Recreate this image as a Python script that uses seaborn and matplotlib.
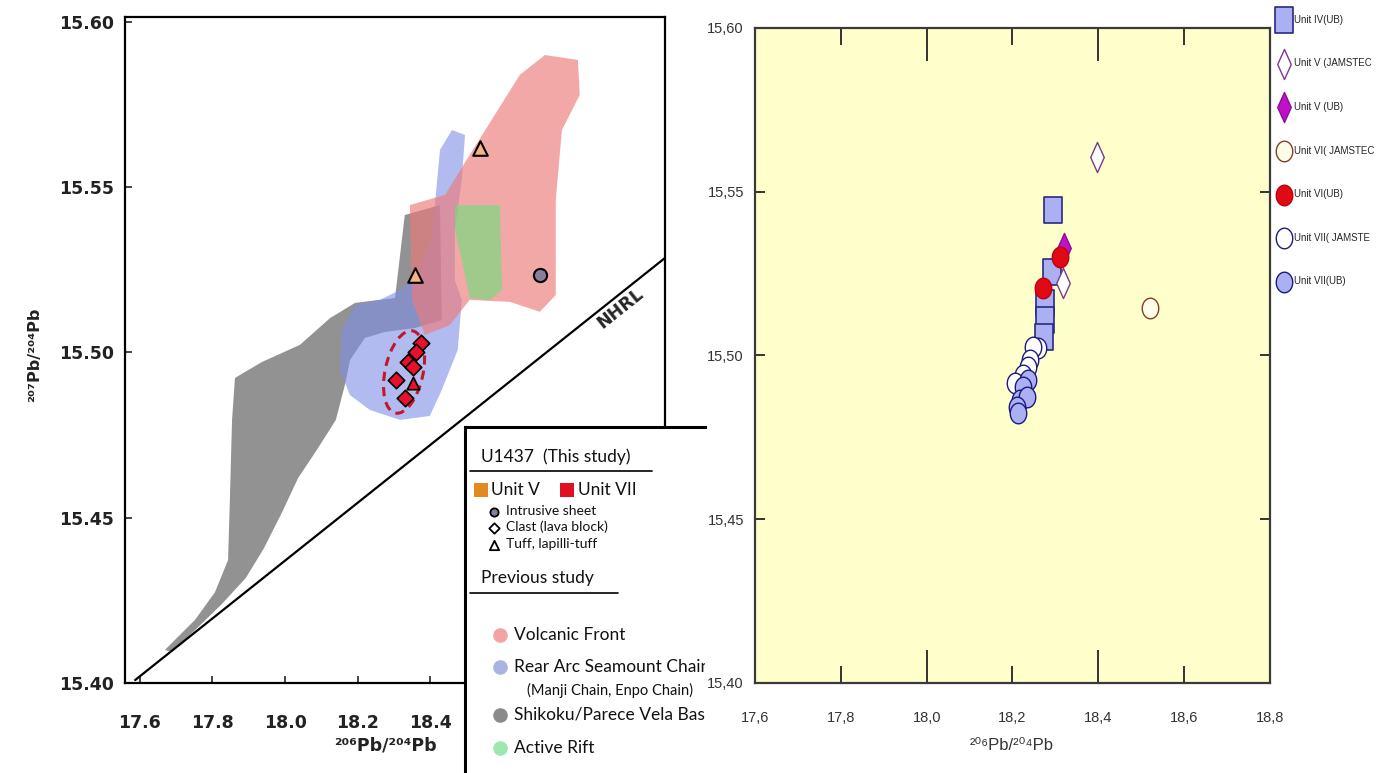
import numpy as np
import matplotlib
matplotlib.use("Agg")
import matplotlib.pyplot as plt
import seaborn as sns
from matplotlib import font_manager
from matplotlib.patches import Ellipse
from matplotlib.path import Path
from matplotlib.markers import MarkerStyle
from matplotlib.transforms import ScaledTranslation
from matplotlib.font_manager import FontProperties

# ---------------- LEFT PANEL DATA (206Pb/204Pb vs 207Pb/204Pb) ----------------
vf_x = [18.716, 18.807, 18.812, 18.763, 18.746, 18.746, 18.702, 18.620, 18.509,
        18.454, 18.385, 18.350, 18.344, 18.441, 18.509, 18.578, 18.647]
vf_y = [15.590, 15.5885, 15.5779, 15.5673, 15.5461, 15.5174, 15.5123, 15.5153, 15.5159,
        15.5083, 15.5053, 15.5159, 15.5446, 15.5477, 15.5598, 15.5719, 15.5840]

rasc_x = [18.460, 18.496, 18.487, 18.468, 18.468, 18.487, 18.476, 18.432, 18.399, 18.317,
          18.234, 18.179, 18.151, 18.157, 18.193, 18.261, 18.317, 18.372, 18.405, 18.427]
rasc_y = [15.5673, 15.5658, 15.5522, 15.5371, 15.5219, 15.5159, 15.5008, 15.4887, 15.4808, 15.4796,
          15.4826, 15.4871, 15.4947, 15.5068, 15.5144, 15.5159, 15.5189, 15.5250, 15.5356, 15.5613]

spb_x = [17.669, 17.752, 17.807, 17.843, 17.848, 17.854, 17.862, 17.936, 18.041, 18.124,
         18.193, 18.303, 18.330, 18.427, 18.432, 18.358, 18.275, 18.220, 18.179, 18.165,
         18.140, 18.091, 18.036, 17.992, 17.942, 17.892, 17.826, 17.752, 17.688]
spb_y = [15.4100, 15.4191, 15.4275, 15.4372, 15.4554, 15.4796, 15.4923, 15.4971, 15.5023, 15.5104,
         15.5150, 15.5165, 15.5416, 15.5446, 15.5098, 15.5074, 15.5062, 15.5044, 15.4977, 15.4902,
         15.4796, 15.4711, 15.4620, 15.4517, 15.4408, 15.4318, 15.4239, 15.4160, 15.4094]

rift_x = [18.468, 18.592, 18.598, 18.565, 18.509, 18.487, 18.468]
rift_y = [15.5446, 15.5446, 15.5189, 15.5159, 15.5165, 15.5280, 15.5371]

nhrl_x = [17.587, 19.047]
nhrl_y = [15.4009, 15.5286]

u5_tuff_x = [18.537, 18.358]
u5_tuff_y = [15.5619, 15.5234]
u5_sheet_x = [18.702]
u5_sheet_y = [15.5234]
u7_clast_x = [18.376, 18.361, 18.339, 18.352, 18.307, 18.330]
u7_clast_y = [15.5028, 15.5002, 15.4972, 15.4956, 15.4917, 15.4861]
u7_tuff_x = [18.353]
u7_tuff_y = [15.4907]
u7_field_center = (18.328, 15.4941)

left_xticks = [17.6, 17.8, 18.0, 18.2, 18.4]
left_xticklabels = ["17.6", "17.8", "18.0", "18.2", "18.4"]
left_yticks = [15.40, 15.45, 15.50, 15.55, 15.60]
left_yticklabels = ["15.40", "15.45", "15.50", "15.55", "15.60"]

# ---------------- RIGHT PANEL DATA ----------------
iv_ub_x = [18.295, 18.292, 18.276, 18.276, 18.274]
iv_ub_y = [15.5444, 15.5256, 15.5160, 15.5108, 15.5057]
v_jam_x = [18.397, 18.318]
v_jam_y = [15.5606, 15.5221]
v_ub_x = [18.320]
v_ub_y = [15.5328]
vi_jam_x = [18.521]
vi_jam_y = [15.5145]
vi_ub_x = [18.311, 18.271]
vi_ub_y = [15.5301, 15.5205]
vii_jam_x = [18.260, 18.248, 18.241, 18.236, 18.225, 18.206]
vii_jam_y = [15.5023, 15.5026, 15.4986, 15.4965, 15.4940, 15.4916]
vii_ub_x = [18.236, 18.225, 18.218, 18.234, 18.211, 18.213]
vii_ub_y = [15.4925, 15.4904, 15.4864, 15.4873, 15.4843, 15.4824]

right_xticks = [17.6, 17.8, 18.0, 18.2, 18.4, 18.6, 18.8]
right_xticklabels = ["17,6", "17,8", "18,0", "18,2", "18,4", "18,6", "18,8"]
right_yticks = [15.40, 15.45, 15.50, 15.55, 15.60]
right_yticklabels = ["15,40", "15,45", "15,50", "15,55", "15,60"]

# legend texts as they appear (cut at the right edge of the image)
series_labels = ["Unit IV(UB)", "Unit V (JAMSTEC", "Unit V (UB)", "Unit VI( JAMSTEC",
                 "Unit VI(UB)", "Unit VII( JAMSTE", "Unit VII(UB)"]

# ---------------- STYLE ----------------
sns.set_style("white")
names = {f.name for f in font_manager.fontManager.ttflist}
NARROW = "Liberation Sans Narrow" if "Liberation Sans Narrow" in names else "Liberation Sans"
LEGF = "Lato" if "Lato" in names else "DejaVu Sans"
plt.rcParams["font.family"] = ["DejaVu Sans"]

W, H = 1376, 773
fig = plt.figure(figsize=(W / 100, H / 100), dpi=100)
fig.patch.set_facecolor("white")

# ================= LEFT PANEL =================
ax1 = fig.add_axes([125 / W, 1 - 683 / H, 540 / W, 666 / H])
ax1.set_facecolor("white")
ax1.set_xlim(17.559, 19.047)
ax1.set_ylim(15.40, 15.6015)

ax1.fill(spb_x, spb_y, color="#7F7F7F", alpha=0.85, lw=0, zorder=1)
ax1.fill(rasc_x, rasc_y, color="#7F8FE6", alpha=0.6, lw=0, zorder=2)
ax1.fill(vf_x, vf_y, color="#EE7A7A", alpha=0.65, lw=0, zorder=2.2)
ax1.fill(rift_x, rift_y, color="#6AE07A", alpha=0.6, lw=0, zorder=2.4)

sns.lineplot(x=nhrl_x, y=nhrl_y, color="black", lw=1.6, ax=ax1, zorder=3, legend=False)
ax1.text(18.923, 15.5135, "NHRL", rotation=38.5, rotation_mode="anchor",
         ha="center", va="center", fontsize=12.5, fontweight="bold", zorder=4)

# dashed field around Unit VII samples
ell = Ellipse((0, 0), width=0.38, height=0.84, angle=-12, fill=False,
              edgecolor="#C0182A", lw=2.2, ls=(0, (3, 2)), zorder=4,
              transform=fig.dpi_scale_trans + ScaledTranslation(*u7_field_center, ax1.transData))
ax1.add_patch(ell)

sns.scatterplot(x=u5_tuff_x, y=u5_tuff_y, marker="^", s=110, color="#F5B38A",
                edgecolor="black", linewidth=1.5, ax=ax1, zorder=5, legend=False)
sns.scatterplot(x=u5_sheet_x, y=u5_sheet_y, marker="o", s=90, color="#8A7E9E",
                edgecolor="black", linewidth=1.5, ax=ax1, zorder=5, legend=False)
sns.scatterplot(x=u7_clast_x, y=u7_clast_y, marker="D", s=70, color="#E8102A",
                edgecolor="black", linewidth=1.2, ax=ax1, zorder=5, legend=False)
sns.scatterplot(x=u7_tuff_x, y=u7_tuff_y, marker="^", s=80, color="#E8102A",
                edgecolor="black", linewidth=1.2, ax=ax1, zorder=5, legend=False)

ax1.set_xticks(left_xticks)
ax1.set_xticklabels(left_xticklabels)
ax1.set_yticks(left_yticks)
ax1.set_yticklabels(left_yticklabels)
ax1.tick_params(axis="both", direction="in", length=5, width=1.2, labelsize=12.5,
                bottom=True, left=True, top=False, right=False)
ax1.tick_params(axis="x", pad=22)
ax1.tick_params(axis="y", pad=8)
for lab in ax1.get_xticklabels() + ax1.get_yticklabels():
    lab.set_fontweight("bold")
    lab.set_color("#222222")
for sp in ax1.spines.values():
    sp.set_visible(True)
    sp.set_color("black")
    sp.set_linewidth(1.6)
ax1.set_xlabel("")
ax1.set_ylabel("")

fig.text(35 / W, 1 - 355 / H, "²⁰⁷Pb/²⁰⁴Pb", rotation=90, ha="center", va="center",
         fontsize=11.5, fontweight="bold", color="#222222")
fig.text(385 / W, 1 - 745 / H, "²⁰⁶Pb/²⁰⁴Pb", ha="center", va="center",
         fontsize=12.5, fontweight="bold", color="#222222")

# ================= LEFT LEGEND BOX =================
ax3 = fig.add_axes([465 / W, 0, 240 / W, 346 / H])
ax3.set_xlim(0, 1)
ax3.set_ylim(0, 1)
ax3.set_xticks([])
ax3.set_yticks([])
ax3.set_facecolor("white")
for k in ["right", "bottom"]:
    ax3.spines[k].set_visible(False)
for k in ["top", "left"]:
    ax3.spines[k].set_visible(True)
    ax3.spines[k].set_color("black")
    ax3.spines[k].set_linewidth(2.2)

def u(px):
    return (px - 465) / 240

def v(py):
    return (773 - py) / 346

tk = dict(family=LEGF, color="#111111", va="center", ha="left", clip_on=True)
ax3.text(u(481), v(457), "U1437  (This study)", fontsize=12.5, **tk)
ax3.plot([u(470), u(652)], [v(471), v(471)], color="black", lw=1.2)
ax3.scatter([u(481)], [v(490)], marker="s", s=90, color="#E08A20", lw=0)
ax3.text(u(491), v(490), "Unit V", fontsize=12.5, **tk)
ax3.scatter([u(567)], [v(490)], marker="s", s=90, color="#E01020", lw=0)
ax3.text(u(578), v(490), "Unit VII", fontsize=12.5, **tk)
ax3.scatter([u(494)], [v(512)], marker="o", s=35, color="#8A7E9E", edgecolor="black", lw=1.3)
ax3.text(u(506), v(511), "Intrusive sheet", fontsize=10, **tk)
ax3.scatter([u(494)], [v(528)], marker="D", s=28, color="white", edgecolor="black", lw=1.3)
ax3.text(u(506), v(527), "Clast (lava block)", fontsize=10, **tk)
ax3.scatter([u(494)], [v(545)], marker="^", s=45, color="white", edgecolor="black", lw=1.3)
ax3.text(u(506), v(544), "Tuff, lapilli-tuff", fontsize=10, **tk)
ax3.text(u(481), v(578), "Previous study", fontsize=12.5, **tk)
ax3.plot([u(470), u(618)], [v(593), v(593)], color="black", lw=1.2)
prev = [("#F2A3A3", 635, "Volcanic Front"),
        ("#A9B4E0", 667, "Rear Arc Seamount Chain"),
        ("#8A8A8A", 715, "Shikoku/Parece Vela Basin"),
        ("#9EE8B0", 748, "Active Rift")]
for col, py, lab in prev:
    ax3.scatter([u(500)], [v(py)], marker="o", s=110, color=col, lw=0)
    ax3.text(u(514), v(py), lab, fontsize=12.5, **tk)
ax3.text(u(527), v(690), "(Manji Chain, Enpo Chain)", fontsize=10.5, **tk)

# ================= RIGHT PANEL =================
ax2 = fig.add_axes([755 / W, 1 - 683 / H, 515 / W, 655 / H])
ax2.set_facecolor("#FFFFCC")
ax2.set_xlim(17.6, 18.8)
ax2.set_ylim(15.40, 15.60)

rect_m = MarkerStyle(Path([(-0.36, -0.5), (0.36, -0.5), (0.36, 0.5), (-0.36, 0.5), (-0.36, -0.5)], closed=True))
diam_m = MarkerStyle(Path([(0, 1), (0.45, 0), (0, -1), (-0.45, 0), (0, 1)], closed=True))
tt = np.linspace(0, 2 * np.pi, 40)
ell_m = MarkerStyle(Path(np.column_stack([0.4 * np.cos(tt), 0.5 * np.sin(tt)]), closed=True))

sns.scatterplot(x=iv_ub_x, y=iv_ub_y, marker=rect_m, s=330, color="#AAB0F2", edgecolor="#2A2A80",
                linewidth=1.2, ax=ax2, zorder=3, label=series_labels[0], legend=False)
sns.scatterplot(x=v_jam_x, y=v_jam_y, marker=diam_m, s=470, color="white", edgecolor="#7A3A8A",
                linewidth=1.0, ax=ax2, zorder=4, label=series_labels[1], legend=False)
sns.scatterplot(x=v_ub_x, y=v_ub_y, marker=diam_m, s=470, color="#C010C8", edgecolor="#8A1090",
                linewidth=1.0, ax=ax2, zorder=5, label=series_labels[2], legend=False)
sns.scatterplot(x=vi_jam_x, y=vi_jam_y, marker=ell_m, s=220, color="#FFFFE8", edgecolor="#8B3A2A",
                linewidth=1.0, ax=ax2, zorder=4, label=series_labels[3], legend=False)
sns.scatterplot(x=vi_ub_x, y=vi_ub_y, marker=ell_m, s=220, color="#E00A14", edgecolor="#C00010",
                linewidth=1.0, ax=ax2, zorder=6, label=series_labels[4], legend=False)
sns.scatterplot(x=vii_jam_x, y=vii_jam_y, marker=ell_m, s=220, color="white", edgecolor="#1A1A80",
                linewidth=1.0, ax=ax2, zorder=4, label=series_labels[5], legend=False)
sns.scatterplot(x=vii_ub_x, y=vii_ub_y, marker=ell_m, s=220, color="#AAB0F2", edgecolor="#1A1A80",
                linewidth=1.0, ax=ax2, zorder=4.5, label=series_labels[6], legend=False)

ax2.set_xticks(right_xticks)
ax2.set_xticklabels(right_xticklabels)
ax2.set_yticks(right_yticks)
ax2.set_yticklabels(right_yticklabels)
ax2.tick_params(axis="both", direction="in", width=1.4, color="#333333",
                labelsize=10.5, labelcolor="#333333",
                top=True, right=True, bottom=True, left=True)
ax2.tick_params(axis="x", length=12, pad=20)
ax2.tick_params(axis="y", length=7, pad=8)
for i, t in enumerate(ax2.xaxis.get_major_ticks()):
    ln = 24 if i in (2, 4) else 12
    t.tick1line.set_markersize(ln)
    t.tick2line.set_markersize(ln)
for lab in ax2.get_xticklabels() + ax2.get_yticklabels():
    lab.set_family([NARROW, "DejaVu Sans"])
for sp in ax2.spines.values():
    sp.set_visible(True)
    sp.set_color("#3A3A3A")
    sp.set_linewidth(1.6)
ax2.set_xlabel("")
ax2.set_ylabel("")
fig.text(1012 / W, 1 - 745 / H, "²⁰⁶Pb/²⁰⁴Pb", ha="center", va="center",
         fontsize=12, color="#333333", family=[NARROW, "DejaVu Sans"])

ax2.legend(loc="upper left", bbox_to_anchor=(1277 / W, 1 - 13 / H), bbox_transform=fig.transFigure,
           frameon=False, prop=FontProperties(family=NARROW, size=7), labelspacing=3.45,
           handlelength=1.0, handletextpad=0.5, borderaxespad=0, borderpad=0.2,
           scatterpoints=1, markerscale=1.0)

fig.savefig("out.png", dpi=100, facecolor="white")
